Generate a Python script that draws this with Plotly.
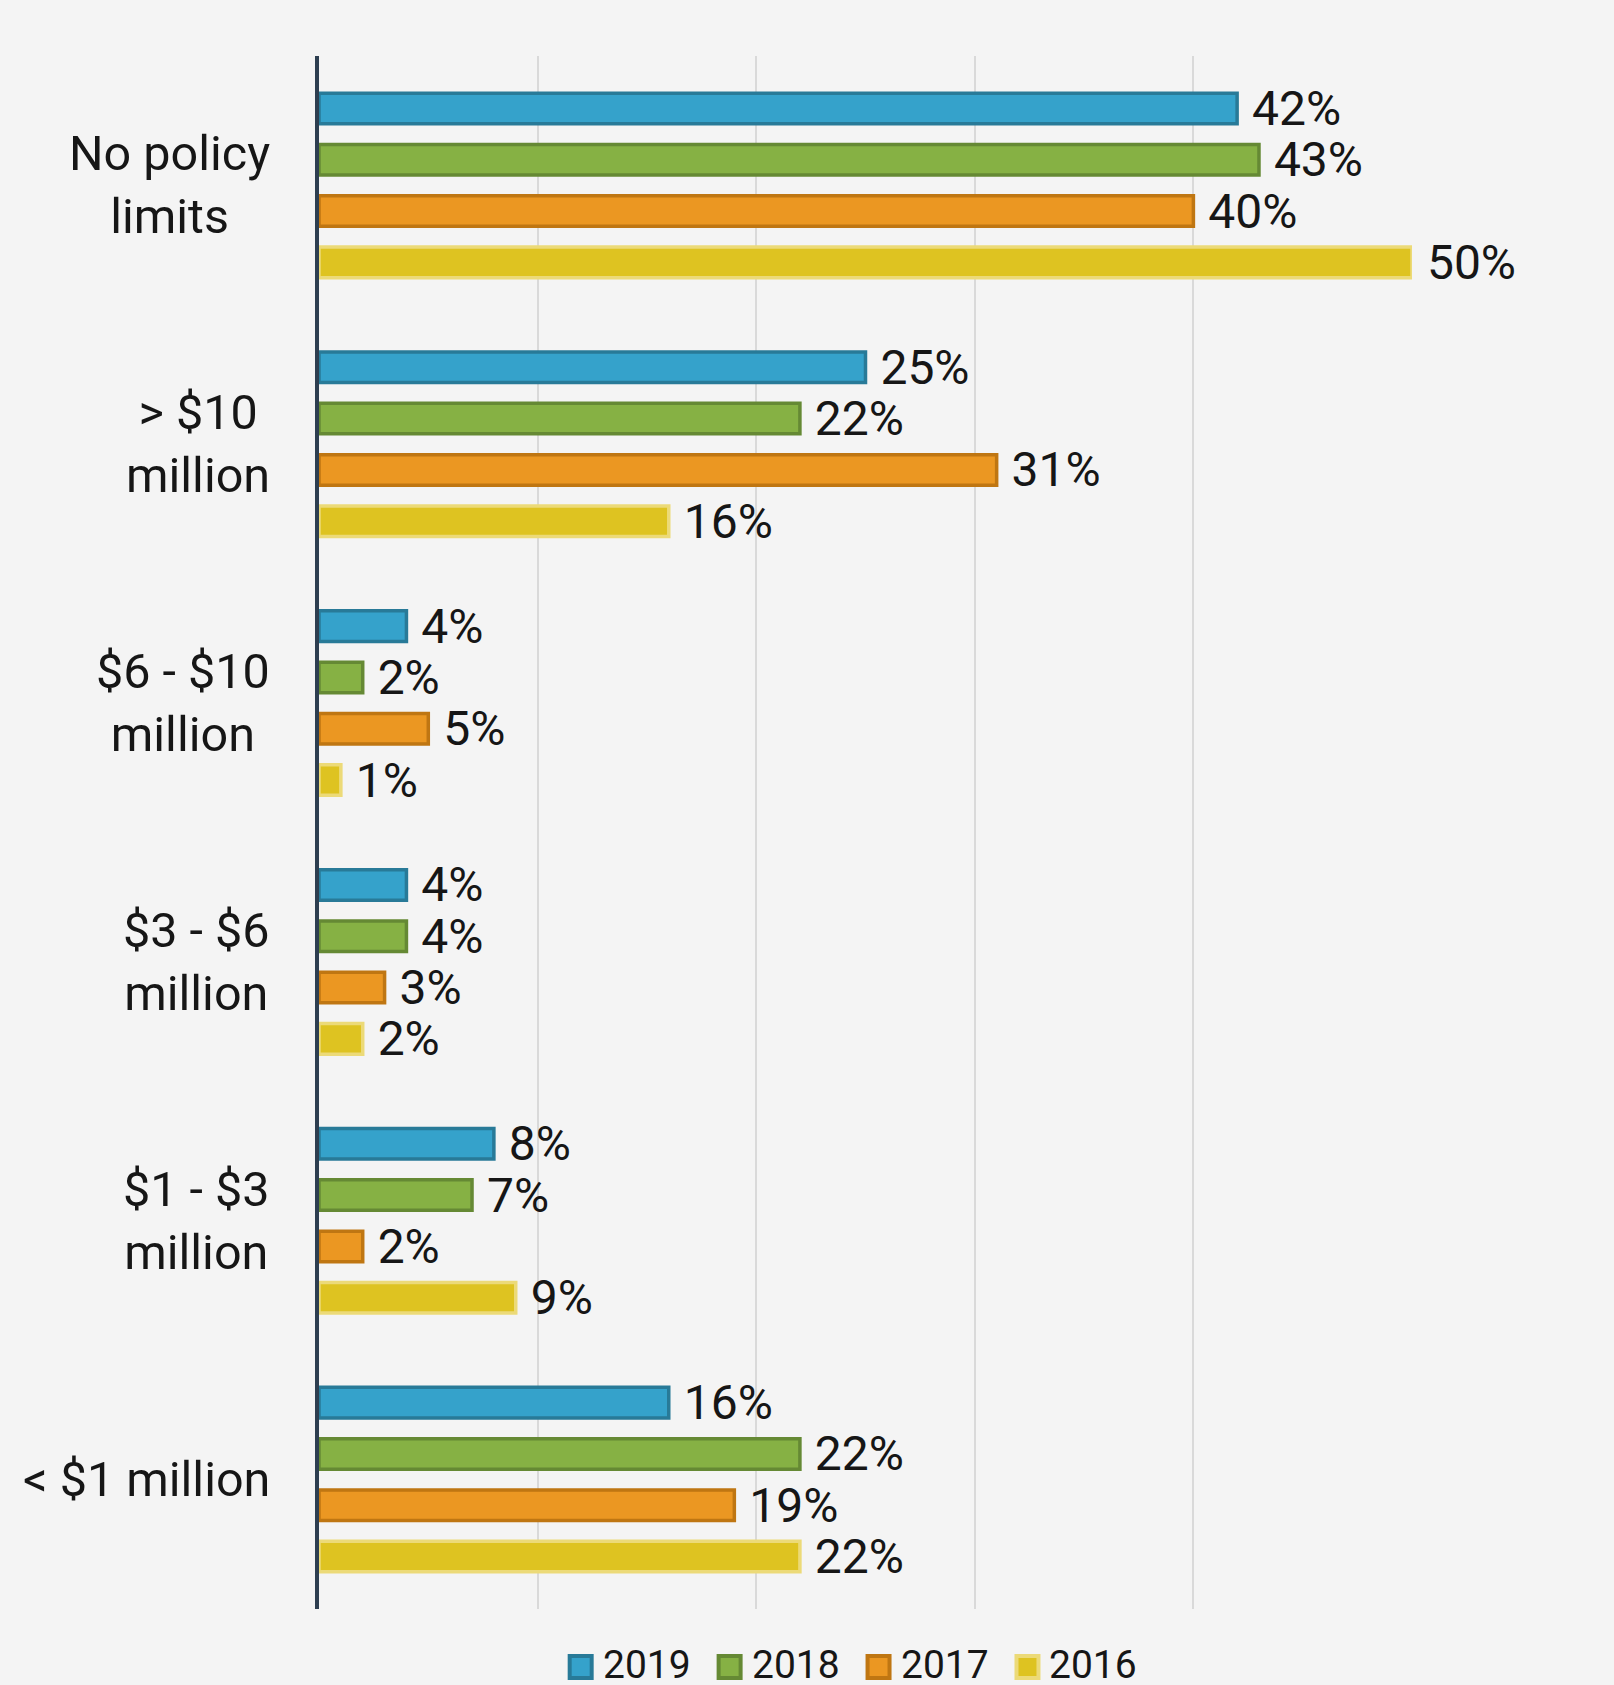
import plotly.graph_objects as go

# Policy limit buckets, listed top to bottom
categories = [
    "No policy limits",
    "> $10 million",
    "$6 - $10 million",
    "$3 - $6 million",
    "$1 - $3 million",
    "< $1 million",
]
# Multi-line labels shown beside each bucket
category_labels = [
    "No policy<br>limits",
    "> $10<br>million",
    "$6 - $10<br>million",
    "$3 - $6<br>million",
    "$1 - $3<br>million",
    "< $1 million",
]

years = ["2019", "2018", "2017", "2016"]
values_2019 = [42, 25, 4, 4, 8, 16]
values_2018 = [43, 22, 2, 4, 7, 22]
values_2017 = [40, 31, 5, 3, 2, 19]
values_2016 = [50, 16, 1, 2, 9, 22]
series = [values_2019, values_2018, values_2017, values_2016]

fill_colors = ["#35a2cb", "#86b144", "#eb9722", "#dec321"]
line_colors = ["#287a98", "#658934", "#bf7612", "#ecda78"]

FONT = "Roboto"
TEXT_COLOR = "#161616"

W, H = 1614, 1685
M_L, M_R, M_T, M_B = 318.5, 202, 56, 76
PLOT_W = W - M_L - M_R
PLOT_H = H - M_T - M_B


def px_to_paper_x(px):
    return (px - M_L) / PLOT_W


def px_to_paper_y(py):
    return 1 - (py - M_T) / PLOT_H


fig = go.Figure()

for year, vals, fc, lc in zip(years, series, fill_colors, line_colors):
    fig.add_trace(go.Bar(
        y=categories,
        x=vals,
        orientation="h",
        name=year,
        marker=dict(color=fc, line=dict(color=lc, width=3.5)),
        texttemplate="\u00a0%{x}%",
        textposition="outside",
        constraintext="none",
        cliponaxis=False,
        textfont=dict(family=FONT, size=48, color=TEXT_COLOR),
        showlegend=False,
        hoverinfo="skip",
    ))

# Centred multi-line category labels to the left of the axis
for cat, lab in zip(categories, category_labels):
    fig.add_annotation(
        x=0, xref="paper", y=cat, yref="y",
        text=lab, showarrow=False,
        xanchor="right", yanchor="middle", align="center",
        xshift=-47,
        font=dict(family=FONT, size=48.5, color=TEXT_COLOR),
    )

# Legend row at the bottom: outlined squares followed by the year
LEG_START = 569.3      # left edge of the first swatch (pixels)
LEG_STEP = 149         # distance between consecutive entries
LEG_SIZE = 22          # swatch size inside its outline
LEG_CY = 1667          # vertical centre of the swatches
for i, (year, fc, lc) in enumerate(zip(years, fill_colors, line_colors)):
    left = LEG_START + i * LEG_STEP
    fig.add_shape(
        type="rect", xref="paper", yref="paper",
        x0=px_to_paper_x(left), x1=px_to_paper_x(left + LEG_SIZE),
        y0=px_to_paper_y(LEG_CY + LEG_SIZE / 2), y1=px_to_paper_y(LEG_CY - LEG_SIZE / 2),
        fillcolor=fc, line=dict(color=lc, width=4),
    )
    fig.add_annotation(
        x=px_to_paper_x(left + LEG_SIZE + 9), xref="paper",
        y=px_to_paper_y(LEG_CY - 2), yref="paper",
        text=year, showarrow=False,
        xanchor="left", yanchor="middle",
        font=dict(family=FONT, size=39, color=TEXT_COLOR),
    )

fig.update_layout(
    width=W,
    height=H,
    margin=dict(l=M_L, r=M_R, t=M_T, b=M_B),
    paper_bgcolor="#f4f4f4",
    plot_bgcolor="#f4f4f4",
    barmode="group",
    bargap=0.207,
    bargroupgap=0.405,
    font=dict(family=FONT, color=TEXT_COLOR),
    showlegend=False,
    xaxis=dict(
        range=[0, 50],
        dtick=10,
        showgrid=True,
        gridcolor="#d9d9d9",
        gridwidth=2,
        zeroline=False,
        showticklabels=False,
        showline=False,
        fixedrange=True,
    ),
    yaxis=dict(
        categoryorder="array",
        categoryarray=categories,
        autorange="reversed",
        showticklabels=False,
        showgrid=False,
        zeroline=False,
        showline=True,
        linecolor="#2d3e50",
        linewidth=4,
        ticks="",
        fixedrange=True,
    ),
)

fig.write_html("out.html")
